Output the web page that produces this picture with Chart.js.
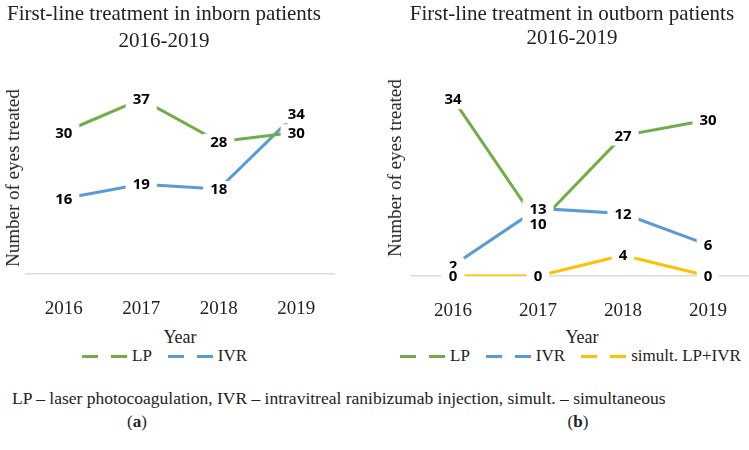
<!DOCTYPE html>
<html>
<head>
<meta charset="utf-8">
<script src="https://cdn.jsdelivr.net/npm/chart.js@4.4.1/dist/chart.umd.min.js"></script>
<style>
  html, body { margin: 0; padding: 0; background: #fff; }
  body { width: 749px; height: 450px; position: relative; overflow: hidden; font-family: "Liberation Serif", serif; color: #222; }
  .abs { position: absolute; white-space: nowrap; }
  .center { transform: translate(-50%, -50%); }
  .title { font-size: 21px; text-align: center; }
  .ytitle { font-size: 19px; transform: translate(-50%, -50%) rotate(-90deg); }
  .xtitle { font-size: 18px; }
  .legend { display: flex; align-items: center; font-size: 17px; transform: translateY(-50%); }
  .item { display: flex; align-items: center; margin-right: 16px; }
  .dash { display: inline-block; width: 16px; height: 3px; }
  .gap { display: inline-block; width: 13px; }
  .item span.txt { margin-left: 5px; }
  #left { position: absolute; left: 0; top: 0; }
  #right { position: absolute; left: 375px; top: 0; }
</style>
</head>
<body>
<canvas id="left" width="375" height="320"></canvas>
<canvas id="right" width="380" height="320"></canvas>

<div class="abs center title" style="left:164px; top:27px; line-height:27px;">First-line treatment in inborn patients<br>2016-2019</div>
<div class="abs center title" style="left:572px; top:25px; line-height:24px;">First-line treatment in outborn patients<br>2016-2019</div>

<div class="abs ytitle" style="left:13px; top:178px;">Number of eyes treated</div>
<div class="abs ytitle" style="left:395px; top:168px;">Number of eyes treated</div>

<div class="abs center xtitle" style="left:180px; top:337px;">Year</div>
<div class="abs center xtitle" style="left:582px; top:337px;">Year</div>

<div id="legendLeft" class="abs legend" style="left:82px; top:356px;"></div>
<div id="legendRight" class="abs legend" style="left:400px; top:356px;"></div>

<div class="abs" style="left:12px; top:398px; transform: translateY(-50%); font-size:17.5px;">LP – laser photocoagulation, IVR – intravitreal ranibizumab injection, simult. – simultaneous</div>
<div class="abs center" style="left:137px; top:422px; font-size:17px;">(<b>a</b>)</div>
<div class="abs center" style="left:578px; top:422px; font-size:17px;">(<b>b</b>)</div>

<script>
// Categories
const years = ['2016', '2017', '2018', '2019'];

// (a) inborn patients
const inbornLP = [30, 37, 28, 30];
const inbornIVR = [16, 19, 18, 34];

// (b) outborn patients
const outbornLP = [34, 10, 27, 30];
const outbornIVR = [2, 13, 12, 6];
const outbornSimult = [0, 0, 4, 0];

const GREEN = '#70AD47';
const BLUE = '#5B9BD5';
const YELLOW = '#FFC000';

// Draws the value of each point centered on it, on a white box (Excel style)
const pointLabels = {
    id: 'pointLabels',
    afterDatasetsDraw(chart) {
        const ctx = chart.ctx;
        ctx.save();
        ctx.font = 'bold 15px "Open Sans"';
        ctx.textAlign = 'center';
        ctx.textBaseline = 'middle';
        chart.data.datasets.forEach((ds, i) => {
            const meta = chart.getDatasetMeta(i);
            meta.data.forEach((pt, j) => {
                const txt = String(ds.data[j]);
                const w = ctx.measureText(txt).width;
                ctx.fillStyle = '#fff';
                ctx.fillRect(pt.x - w / 2 - 7, pt.y - 8, w + 14, 18);
                ctx.fillStyle = '#000';
                ctx.fillText(txt, pt.x, pt.y + 1);
            });
        });
        ctx.restore();
    }
};

function lineDataset(label, data, color) {
    return {
        label: label,
        data: data,
        borderColor: color,
        backgroundColor: color,
        borderWidth: 3,
        pointRadius: 0,
        tension: 0,
        fill: false
    };
}

function makeChart(id, datasets, pad) {
    return new Chart(document.getElementById(id), {
        type: 'line',
        data: { labels: years, datasets: datasets },
        plugins: [pointLabels],
        options: {
            responsive: false,
            animation: false,
            events: [],
            layout: { padding: pad },
            plugins: { legend: { display: false }, tooltip: { enabled: false }, title: { display: false } },
            scales: {
                x: {
                    offset: true,
                    grid: { display: false, drawTicks: false },
                    border: { display: false },
                    ticks: { color: '#222', padding: 24, font: { family: 'Liberation Serif', size: 19 } },
                    afterFit: s => { s.height = 40; }
                },
                y: {
                    min: 0,
                    max: 40,
                    ticks: { display: false, stepSize: 10 },
                    border: { display: false },
                    grid: {
                        drawTicks: false,
                        lineWidth: 1.5,
                        color: c => (c.tick && c.tick.value === 0) ? '#D9D9D9' : 'rgba(0,0,0,0)'
                    },
                    afterFit: s => { s.width = 0; }
                }
            }
        }
    });
}

function buildLegend(el, chart) {
    el.innerHTML = chart.data.datasets.map(ds => `
        <div class="item">
            <span class="dash" style="background:${ds.borderColor}"></span><span class="gap"></span><span class="dash" style="background:${ds.borderColor}"></span>
            <span class="txt">${ds.label}</span>
        </div>`).join('');
}

const leftChart = makeChart('left', [
    lineDataset('LP', inbornLP, GREEN),
    lineDataset('IVR', inbornIVR, BLUE)
], { left: 25, right: 40, top: 85, bottom: 6 });

const rightChart = makeChart('right', [
    lineDataset('LP', outbornLP, GREEN),
    lineDataset('IVR', outbornIVR, BLUE),
    lineDataset('simult. LP+IVR', outbornSimult, YELLOW)
], { left: 35.5, right: 4.5, top: 68, bottom: 4 });

buildLegend(document.getElementById('legendLeft'), leftChart);
buildLegend(document.getElementById('legendRight'), rightChart);
</script>
</body>
</html>
